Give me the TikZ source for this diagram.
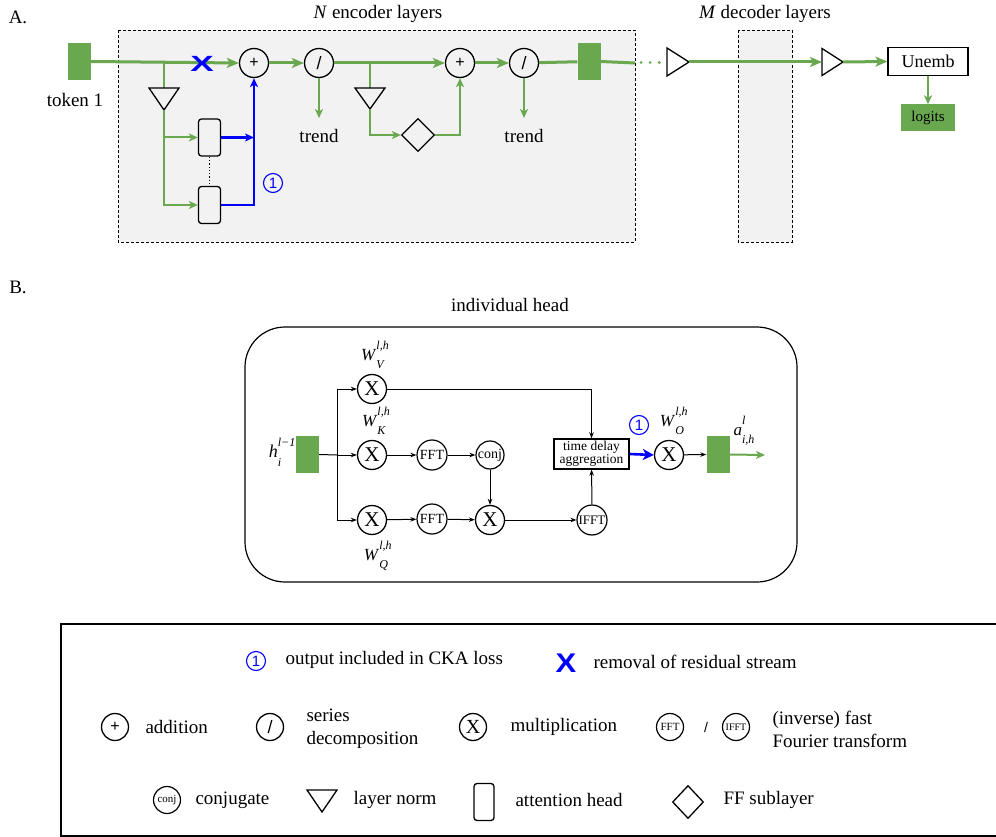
\documentclass[tikz,border=0pt]{standalone}
\usepackage{fontspec}
\setmainfont{Liberation Serif}
\newfontfamily\sansf{Liberation Sans}
\usetikzlibrary{arrows.meta,shapes.geometric}
\definecolor{lgreen}{RGB}{106,168,79}
\definecolor{panelgray}{RGB}{242,242,242}
\definecolor{cblue}{RGB}{0,0,255}
\newcommand\fs[1]{\fontsize{#1}{#1}\selectfont}
% italic symbol with a superscript and a subscript set well apart
\newcommand\supsub[3]{\textit{#1}\makebox[0pt][l]{\raisebox{0.62em}{\fs{12}\textit{#2}}}\raisebox{-0.5em}{\fs{12}\textit{#3}}}
% circled one used as a marker
\newcommand\markone{\tikz[baseline=-0.5ex]\node[circle,draw=cblue,line width=1.1pt,inner sep=0pt,minimum size=19pt,text=cblue]{\sansf\fs{15}1};}
% bold blue cross marking the removed residual stream
\newcommand\remx[2]{\textcolor{cblue}{\sansf\bfseries\fs{#1}\scalebox{#2}[1]{X}}}
\begin{document}
\begin{tikzpicture}[x=1pt,y=-1pt,
  every node/.style={font=\fs{19}},
  gline/.style={draw=lgreen,line width=3pt},
  gthin/.style={draw=lgreen,line width=2pt},
  bline/.style={draw=cblue,line width=2.2pt},
  garrow/.style={-{Stealth[length=12pt,width=10pt,inset=3pt]}},
  gsmall/.style={-{Stealth[length=9pt,width=8pt,inset=2.5pt]}},
  karrow/.style={line width=1pt,-{Stealth[length=6pt,width=4.5pt]}},
  opcirc/.style={circle,draw,line width=1.3pt,minimum size=29pt,inner sep=0pt},
  smallcirc/.style={circle,draw,line width=1.2pt,minimum size=30pt,inner sep=0pt,font=\fs{14}},
  headbox/.style={rectangle,rounded corners=3pt,draw,line width=1.3pt,minimum width=22pt,minimum height=37pt,inner sep=0pt},
  tok/.style={fill=lgreen,minimum width=23pt,minimum height=37pt,inner sep=0pt},
  ffbox/.style={diamond,draw,line width=1.3pt,minimum width=33pt,minimum height=33pt,inner sep=0pt},
  lnorm/.style={draw,line width=1.3pt,line join=miter},
  layerbox/.style={draw,dash pattern=on 3pt off 2pt,line width=0.9pt,fill=panelgray},
  leg/.style={anchor=west,align=left,font=\fs{19}}
]
\clip (0,0) rectangle (996,837);

% ---------------- part A ----------------
\node (labA) at (18,17) {A.};
\node (enctitle) at (378,14) {\textit{N} encoder layers};
\node (dectitle) at (765,14) {\textit{M} decoder layers};
\draw[layerbox] (118,30) rectangle (635,242);
\draw[layerbox] (738,30) rectangle (792,242);

\node[tok] (t1) at (79.5,61.5) {};
\node (t1lab) at (75,100) {token 1};

\node[opcirc] (add1) at (254,63) {\sansf\fs{16}+};
\node[opcirc] (dec1) at (319,63) {\sansf\fs{18}/};
\node[opcirc] (add2) at (460,63) {\sansf\fs{16}+};
\node[opcirc] (dec2) at (524,63) {\sansf\fs{18}/};
\node[tok] (t2) at (589,61.5) {};

% residual stream
\draw[gline,garrow] (t1.east) -- (add1.west);
\draw[gline,garrow] (add1) -- (dec1);
\draw[gline,garrow] (dec1) -- (add2);
\draw[gline,garrow] (add2) -- (dec2);
\draw[gline] (dec2) -- (t2);
\coordinate (encout) at (635,63);
\coordinate (gapend) at (666,63);
\draw[gline] (t2.east) -- (encout);
\draw[gline,line cap=round,dash pattern=on 0.1pt off 9pt] (encout) ++(6,0) -- (gapend);
\node (rmx) at (202,64) {\remx{22}{1.6}};

% attention sublayer
\coordinate (br1) at (164,63);
\coordinate (ln1t) at (164,88);
\coordinate (ln1b) at (164,110);
\draw[gthin] (br1) -- (ln1t);
\draw[lnorm] (149,88) -- (179,88) -- (ln1b) -- cycle;
\node[headbox] (h1) at (209.5,137.5) {};
\node[headbox] (h2) at (209.5,205) {};
\draw[line width=1.3pt,dotted] (h1.south) -- (h2.north);
\draw[gthin,gsmall] (ln1b) -- (164,205) -- (h2.west);
\draw[gthin,gsmall] (164,137.5) -- (h1.west);
\draw[bline,-{Stealth[length=9pt,width=8pt,inset=2.5pt]}] (h1.east) -- (254,137.5);
\draw[bline,-{Stealth[length=9pt,width=8pt,inset=2.5pt]}] (h2.east) -- (254,205) -- (add1.south);
\node (m1a) at (273,183) {\markone};

% trends
\coordinate (tr1) at (319,118);
\coordinate (tr2) at (524,118);
\draw[gthin,gsmall] (dec1.south) -- (tr1);
\draw[gthin,gsmall] (dec2.south) -- (tr2);
\node (trend1) at (319,136) {trend};
\node (trend2) at (524,136) {trend};

% feed-forward sublayer
\coordinate (br2) at (370,63);
\coordinate (ln2t) at (370,88);
\coordinate (ln2b) at (370,109);
\draw[gthin] (br2) -- (ln2t);
\draw[lnorm] (355,88) -- (385,88) -- (ln2b) -- cycle;
\node[ffbox] (ff) at (418,135) {};
\draw[gthin,gsmall] (ln2b) -- (370,135) -- (ff.west);
\draw[gthin,gsmall] (ff.east) -- (460,135) -- (add2.south);

% decoder side
\coordinate (ln3r) at (689,62);
\coordinate (ln4l) at (822,62);
\coordinate (ln4r) at (843,62);
\draw[lnorm] (667,48) -- (667,76) -- (ln3r) -- cycle;
\draw[lnorm] (822,48.5) -- (822,75.5) -- (ln4r) -- cycle;
\draw[gline,garrow] (ln3r) -- (ln4l);
\node[draw,line width=1.2pt,minimum width=80pt,minimum height=28pt,inner sep=0pt,font=\fs{18}] (unemb) at (928,61.5) {Unemb};
\node[fill=lgreen,minimum width=54pt,minimum height=27pt,inner sep=0pt,font=\fs{15}] (logits) at (928,118) {logits};
\draw[gline,garrow] (ln4r) -- (unemb.west);
\draw[gthin,gsmall] (unemb.south) -- (logits.north);

% ---------------- part B ----------------
\node (labB) at (18,287) {B.};
\node (headtitle) at (510,305) {individual head};
\draw[line width=1.2pt,rounded corners=40pt] (245,327) rectangle (797,582);

\node[tok] (hin) at (307.5,454.5) {};
\node[font=\fs{18}] (hlab) at (275,452) {\supsub{h}{l−1}{i}};
\node[opcirc,font=\fs{21}] (xv) at (372,389) {X};
\node[opcirc,font=\fs{21}] (xk) at (372,455) {X};
\node[opcirc,font=\fs{21}] (xq) at (372,520) {X};
\node[font=\fs{17}] (wv) at (373,355) {\supsub{W}{l,h}{V}};
\node[font=\fs{17}] (wk) at (374,421) {\supsub{W}{l,h}{K}};
\node[font=\fs{17}] (wq) at (376,556) {\supsub{W}{l,h}{Q}};
\node[smallcirc] (fftk) at (432,455) {FFT};
\node[smallcirc] (fftq) at (432,519) {FFT};
\node[smallcirc,minimum size=28pt] (conj) at (490,455) {conj};
\node[opcirc,font=\fs{21}] (xm) at (490,520) {X};
\node[smallcirc,font=\fs{13}] (ifft) at (592,520) {IFFT};
\node[draw,line width=1.4pt,minimum width=75pt,minimum height=30pt,inner sep=0pt,align=center,font=\fs{13.5}\linespread{0.85}\selectfont] (tda) at (591.5,454) {time delay\\aggregation};
\node[opcirc,font=\fs{21}] (xo) at (669,455) {X};
\node[tok] (hout) at (718,454.5) {};
\node[font=\fs{17}] (wo) at (672,421) {\supsub{W}{l,h}{O}};
\node[font=\fs{17}] (alab) at (744,431) {\supsub{a}{l}{i,h}};
\node (m1b) at (639,425) {\markone};

\coordinate (bus) at (337,455);
\draw[line width=1pt] (hin.east) -- (bus);
\draw[karrow] (bus) -- (xk.west);
\draw[karrow] (337,389) -- (337,520) -- (xq.west);
\draw[karrow] (337,389) -- (xv.west);
\draw[karrow] (xk) -- (fftk);
\draw[karrow] (fftk) -- (conj);
\draw[karrow] (conj) -- (xm);
\draw[karrow] (xq) -- (fftq);
\draw[karrow] (fftq) -- (xm);
\draw[karrow] (xm) -- (ifft);
\draw[karrow] (ifft) -- (tda);
\draw[karrow] (xv.east) -| (tda.north);
\draw[draw=cblue,line width=2.6pt,-{Stealth[length=11pt,width=11pt,inset=3pt]}] (tda.east) -- (xo.west);
\draw[karrow] (xo) -- (hout.west);
\coordinate (aout) at (765,455);
\draw[gthin,gsmall] (hout.east) -- (aout);

% ---------------- legend ----------------
\draw[line width=1.2pt] (1000,624) -- (61,624) -- (61,836) -- (1000,836);

\node (lg1) at (256,661) {\markone};
\node[leg] (lg1t) at (282,660) {output included in CKA loss};
\node (lgx) at (566,663) {\remx{27}{1.15}};
\node[leg] (lgxt) at (590,662) {removal of residual stream};

\node[opcirc,minimum size=27pt] (lgadd) at (115,727) {\sansf\fs{16}+};
\node[leg] (lgaddt) at (142,727) {addition};
\node[opcirc,minimum size=27pt] (lgdec) at (270,727) {\sansf\fs{18}/};
\node[leg,font=\fs{19}\linespread{1.2}\selectfont] (lgdect) at (303,729) {series\\decomposition};
\node[opcirc,minimum size=27pt,font=\fs{20}] (lgx2) at (473,727) {X};
\node[leg] (lgx2t) at (507,727) {multiplication};
\node[smallcirc,minimum size=27pt,font=\fs{11}] (lgfft) at (670,727) {FFT};
\node[font=\sansf\fs{14}] (lgsl) at (706,727) {/};
\node[smallcirc,minimum size=27pt,font=\fs{10}] (lgifft) at (736,727) {IFFT};
\node[leg,font=\fs{19}\linespread{1.2}\selectfont] (lgfftt) at (769,729) {(inverse) fast\\Fourier transform};

\node[smallcirc,minimum size=27pt,font=\fs{11}] (lgconj) at (167,800) {conj};
\node[leg] (lgconjt) at (192,800) {conjugate};
\coordinate (lgln) at (322,800);
\draw[lnorm] (307,790) -- (337,790) -- (322,812) -- cycle;
\node[leg] (lglnt) at (350,800) {layer norm};
\node[headbox,minimum width=20pt] (lghd) at (484,802) {};
\node[leg] (lghdt) at (512,800) {attention head};
\node[ffbox,minimum width=31pt,minimum height=33pt] (lgff) at (688,802) {};
\node[leg] (lgfft2) at (720,800) {FF sublayer};
\end{tikzpicture}
\end{document}
